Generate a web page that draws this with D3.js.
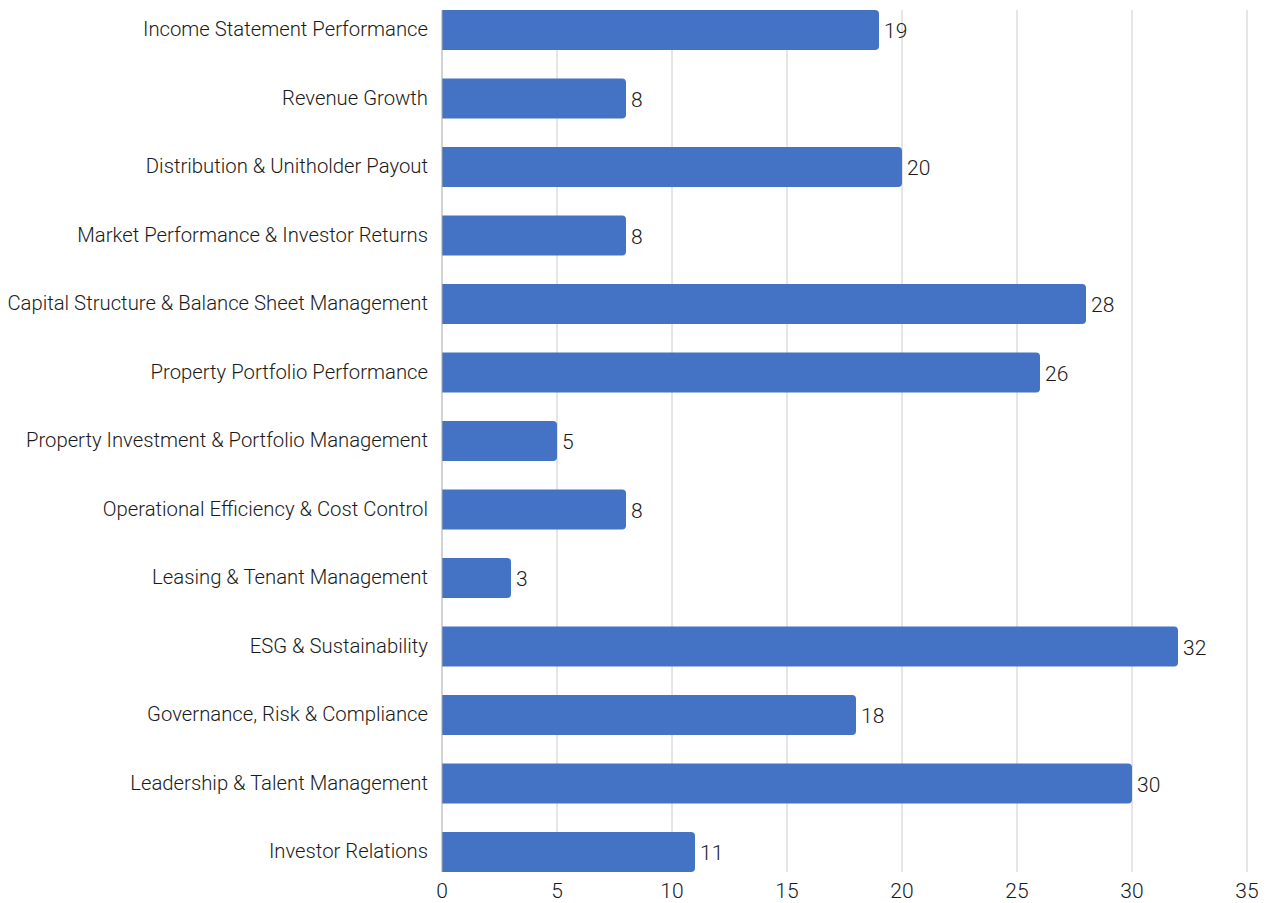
<!DOCTYPE html>
<html>
<head>
<meta charset="utf-8">
<script src="https://cdn.jsdelivr.net/npm/d3@7"></script>
<style>
  html, body { margin: 0; padding: 0; background: #fff; }
  svg { display: block; }
  text { font-family: Roboto, "Noto Sans", sans-serif; font-weight: 300; fill: #1a1a1a; }
</style>
</head>
<body>
<svg id="chart" width="1267" height="903"></svg>
<script>
const categories = [
  "Income Statement Performance",
  "Revenue Growth",
  "Distribution & Unitholder Payout",
  "Market Performance & Investor Returns",
  "Capital Structure & Balance Sheet Management",
  "Property Portfolio Performance",
  "Property Investment & Portfolio Management",
  "Operational Efficiency & Cost Control",
  "Leasing & Tenant Management",
  "ESG & Sustainability",
  "Governance, Risk & Compliance",
  "Leadership & Talent Management",
  "Investor Relations"
];
const counts = [19, 8, 20, 8, 28, 26, 5, 8, 3, 32, 18, 30, 11];
const xTicks = [0, 5, 10, 15, 20, 25, 30, 35];

const svg = d3.select("#chart");
const plot = { left: 442, right: 1247, top: 10, bottom: 872 };
const barH = 40;

const x = d3.scaleLinear().domain([0, 35]).range([plot.left, plot.right]);
const y = d3.scalePoint().domain(categories).range([plot.top + barH / 2, plot.bottom - barH / 2]);

// vertical gridlines
svg.append("g").selectAll("line").data(xTicks.filter(d => d > 0)).join("line")
  .attr("x1", d => x(d)).attr("x2", d => x(d))
  .attr("y1", plot.top).attr("y2", plot.bottom)
  .attr("stroke", "#cccccc").attr("stroke-width", 1);

// bars, rounded at the value end
const r = 4;
svg.append("g").selectAll("path").data(categories).join("path")
  .attr("fill", "#4472C4")
  .attr("d", (c, i) => {
    const x0 = x(0), x1 = x(counts[i]);
    const y0 = y(c) - barH / 2, y1 = y(c) + barH / 2;
    return `M${x0},${y0}H${x1 - r}Q${x1},${y0} ${x1},${y0 + r}V${y1 - r}Q${x1},${y1} ${x1 - r},${y1}H${x0}Z`;
  });

// category axis line
svg.append("line")
  .attr("x1", plot.left).attr("x2", plot.left).attr("y1", plot.top).attr("y2", plot.bottom)
  .attr("stroke", "#a6a6a6").attr("stroke-width", 1);

// category labels
svg.append("g").selectAll("text").data(categories).join("text")
  .attr("x", plot.left - 14).attr("y", c => y(c) - 1)
  .attr("dy", "0.35em").attr("text-anchor", "end")
  .attr("font-size", 20.3)
  .text(c => c);

// value labels
svg.append("g").selectAll("text").data(categories).join("text")
  .attr("x", (c, i) => x(counts[i]) + 5).attr("y", c => y(c) + 1)
  .attr("dy", "0.35em")
  .attr("font-size", 21)
  .text((c, i) => counts[i]);

// x tick labels
svg.append("g").selectAll("text").data(xTicks).join("text")
  .attr("x", d => x(d)).attr("y", 891)
  .attr("dy", "0.35em").attr("text-anchor", "middle")
  .attr("font-size", 21)
  .text(d => d);
</script>
</body>
</html>
